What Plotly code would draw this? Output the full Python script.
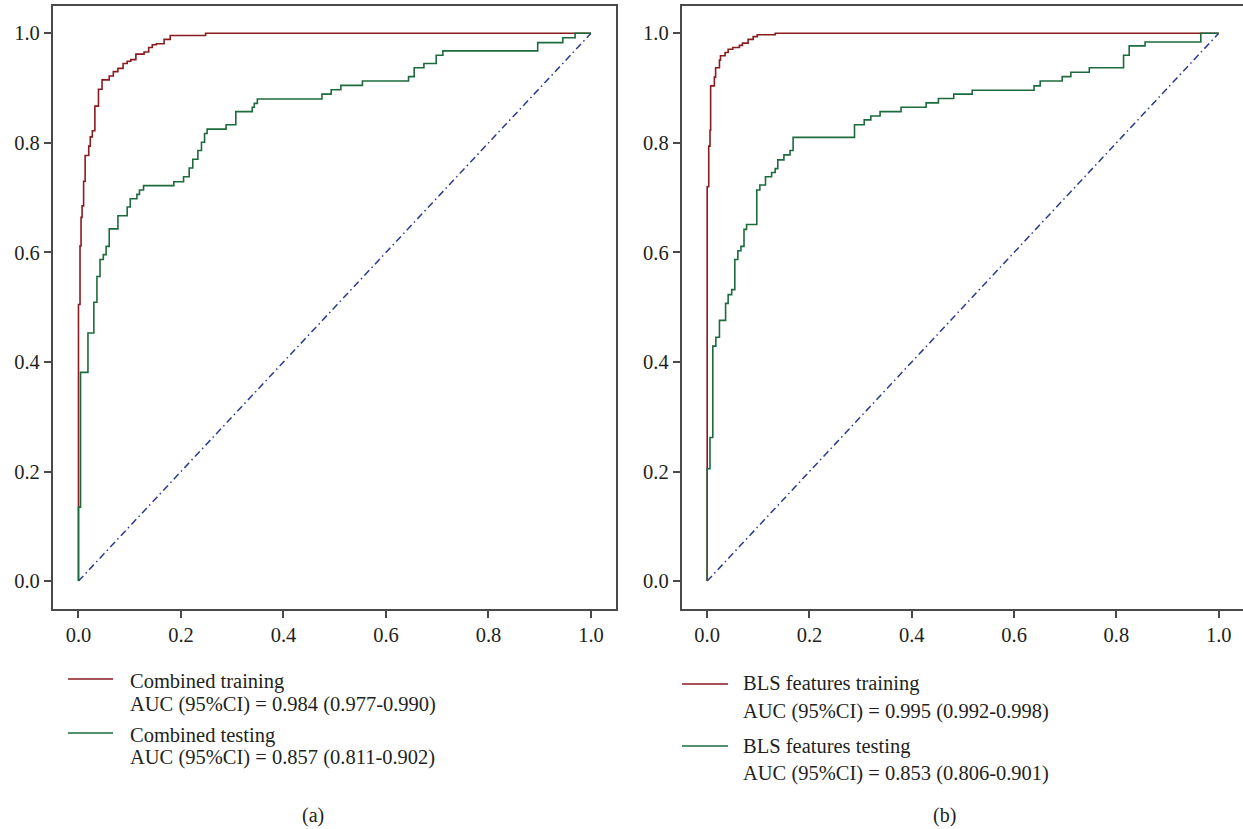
import plotly.graph_objects as go

# ---- ROC points (false positive rate, true positive rate) ----
# (a) combined model
comb_train_fpr = [0, 0, 0.003, 0.005, 0.007, 0.010, 0.013, 0.020, 0.023, 0.027, 0.032, 0.039,
                  0.046, 0.060, 0.068, 0.077, 0.087, 0.095, 0.102, 0.112, 0.128, 0.137, 0.144,
                  0.152, 0.167, 0.179, 0.248, 1.0]
comb_train_tpr = [0, 0.505, 0.612, 0.664, 0.685, 0.730, 0.777, 0.794, 0.811, 0.822, 0.867, 0.898,
                  0.915, 0.922, 0.930, 0.936, 0.945, 0.949, 0.952, 0.962, 0.966, 0.974, 0.979,
                  0.981, 0.989, 0.996, 1.0, 1.0]

comb_test_fpr = [0, 0, 0.004, 0.0185, 0.030, 0.036, 0.042, 0.0485, 0.054, 0.060, 0.077,
                 0.095, 0.101, 0.114, 0.119, 0.127, 0.186, 0.205, 0.216, 0.223, 0.233,
                 0.240, 0.246, 0.251, 0.288, 0.307, 0.339, 0.343, 0.349, 0.475, 0.493,
                 0.512, 0.554, 0.644, 0.655, 0.674, 0.698, 0.711, 0.896, 0.945, 0.969, 1.0]
comb_test_tpr = [0, 0.135, 0.381, 0.453, 0.509, 0.556, 0.587, 0.596, 0.611, 0.643, 0.667,
                 0.683, 0.698, 0.706, 0.714, 0.722, 0.729, 0.738, 0.754, 0.770, 0.786,
                 0.801, 0.817, 0.825, 0.833, 0.857, 0.865, 0.872, 0.880, 0.889, 0.897,
                 0.905, 0.913, 0.921, 0.937, 0.945, 0.960, 0.968, 0.983, 0.992, 1.0, 1.0]

# (b) BLS features model
bls_train_fpr = [0, 0, 0.003, 0.0055, 0.0068, 0.014, 0.0165, 0.024, 0.026, 0.035, 0.041,
                 0.050, 0.063, 0.069, 0.080, 0.090, 0.098, 0.133, 1.0]
bls_train_tpr = [0, 0.720, 0.794, 0.823, 0.904, 0.920, 0.937, 0.951, 0.959, 0.965, 0.971,
                 0.974, 0.978, 0.982, 0.989, 0.994, 0.9975, 1.0, 1.0]

bls_test_fpr = [0, 0, 0.0055, 0.011, 0.017, 0.024, 0.036, 0.041, 0.048, 0.054, 0.060, 0.066,
                0.072, 0.077, 0.097, 0.103, 0.114, 0.126, 0.133, 0.138, 0.150, 0.162, 0.168,
                0.288, 0.307, 0.320, 0.338, 0.379, 0.428, 0.452, 0.482, 0.518, 0.639, 0.651,
                0.694, 0.711, 0.747, 0.814, 0.825, 0.856, 0.958, 0.965, 1.0]
bls_test_tpr = [0, 0.205, 0.262, 0.429, 0.445, 0.476, 0.507, 0.523, 0.532, 0.587, 0.603, 0.611,
                0.642, 0.651, 0.714, 0.723, 0.738, 0.746, 0.753, 0.769, 0.778, 0.786, 0.810,
                0.833, 0.842, 0.849, 0.857, 0.865, 0.873, 0.881, 0.889, 0.896, 0.904, 0.913,
                0.921, 0.929, 0.937, 0.960, 0.977, 0.984, 0.984, 1.0, 1.0]

# chance line
diag = [0, 1]

tick_vals = [0, 0.2, 0.4, 0.6, 0.8, 1.0]
tick_text = ["0.0", "0.2", "0.4", "0.6", "0.8", "1.0"]

legend_a = [("Combined training", "AUC (95%CI) = 0.984 (0.977-0.990)"),
            ("Combined testing", "AUC (95%CI) = 0.857 (0.811-0.902)")]
legend_b = [("BLS features training", "AUC (95%CI) = 0.995 (0.992-0.998)"),
            ("BLS features testing", "AUC (95%CI) = 0.853 (0.806-0.901)")]
panel_labels = ["(a)", "(b)"]

RED = "#8b1a1f"
GREEN = "#1c6b3d"
NAVY = "#2b3990"
AXIS = "#4a4a4a"
TEXT = "#231f20"
FONT = "Liberation Serif, Times New Roman, serif"

W, H = 1243, 829


def px(x):
    return x / W


def py(y):
    return 1 - y / H


fig = go.Figure()

panels = [
    ("x", "y", comb_train_fpr, comb_train_tpr, comb_test_fpr, comb_test_tpr),
    ("x2", "y2", bls_train_fpr, bls_train_tpr, bls_test_fpr, bls_test_tpr),
]
for xa, ya, trf, trt, tef, tet in panels:
    fig.add_trace(go.Scatter(x=diag, y=diag, mode="lines", xaxis=xa, yaxis=ya,
                             line=dict(color=NAVY, width=1.5, dash="7px,3.5px,1.5px,3.5px"),
                             showlegend=False, hoverinfo="skip"))
    fig.add_trace(go.Scatter(x=trf, y=trt, mode="lines", xaxis=xa, yaxis=ya,
                             line=dict(color=RED, width=1.6, shape="hv"), showlegend=False))
    fig.add_trace(go.Scatter(x=tef, y=tet, mode="lines", xaxis=xa, yaxis=ya,
                             line=dict(color=GREEN, width=1.6, shape="hv"), showlegend=False))

axis_common = dict(
    showgrid=False, zeroline=False, showline=True, linecolor=AXIS, linewidth=1.6,
    ticks="outside", ticklen=7, tickwidth=1.5, tickcolor=AXIS,
    tickvals=tick_vals, ticktext=tick_text,
    tickfont=dict(family=FONT, size=20.5, color=TEXT),
)

y_dom = [py(609), py(5.7)]
fig.update_layout(
    width=W, height=H,
    margin=dict(l=0, r=0, t=0, b=0),
    paper_bgcolor="white", plot_bgcolor="white",
    xaxis=dict(domain=[px(52.7), px(616)], range=[-0.0503, 1.0488], mirror=True,
               anchor="y", **axis_common),
    yaxis=dict(domain=y_dom, range=[-0.051, 1.0504], mirror=True, anchor="x", **axis_common),
    xaxis2=dict(domain=[px(681.6), 1.0], range=[-0.05, 1.0475], mirror=True,
                anchor="y2", **axis_common),
    yaxis2=dict(domain=y_dom, range=[-0.051, 1.0504], mirror=False, anchor="x2", **axis_common),
)

# legend blocks drawn beneath each panel
legend_layout = [
    # (entries, line x0, line x1, text x, [line y, name y, auc y] per entry, label x)
    (legend_a, 68, 113, 128, [(679, 681, 704), (733, 735, 757)], 313),
    (legend_b, 682, 728, 741, [(684, 683, 711), (746, 746, 773)], 944),
]
colors = [RED, GREEN]
annotations = []
shapes = []
for (entries, lx0, lx1, tx, ys, lab_x), lab in zip(legend_layout, panel_labels):
    for (name, auc), (ly, ny, ay), col in zip(entries, ys, colors):
        shapes.append(dict(type="line", xref="paper", yref="paper",
                           x0=px(lx0), x1=px(lx1), y0=py(ly), y1=py(ly),
                           line=dict(color=col, width=1.5)))
        annotations.append(dict(text=name, x=px(tx), y=py(ny), xref="paper", yref="paper",
                                xanchor="left", yanchor="middle", showarrow=False,
                                font=dict(family=FONT, size=20.5, color=TEXT)))
        annotations.append(dict(text=auc, x=px(tx), y=py(ay), xref="paper", yref="paper",
                                xanchor="left", yanchor="middle", showarrow=False,
                                font=dict(family=FONT, size=20.5, color=TEXT)))
    annotations.append(dict(text=lab, x=px(lab_x), y=py(815), xref="paper", yref="paper",
                            xanchor="center", yanchor="middle", showarrow=False,
                            font=dict(family=FONT, size=20, color=TEXT)))

fig.update_layout(annotations=annotations, shapes=shapes)

fig.write_html("out.html")
